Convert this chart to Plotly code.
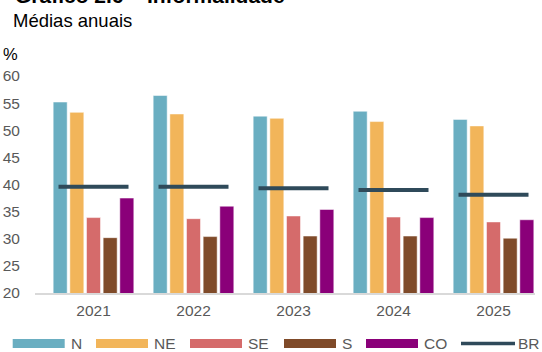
import plotly.graph_objects as go

# Annual averages of the informality rate (%) by region, and Brazil overall
years = ["2021", "2022", "2023", "2024", "2025"]
regions = ["N", "NE", "SE", "S", "CO"]
values_n = [55.2, 56.4, 52.6, 53.5, 52.0]
values_ne = [53.3, 53.0, 52.2, 51.6, 50.8]
values_se = [33.9, 33.7, 34.2, 34.0, 33.1]
values_s = [30.2, 30.4, 30.5, 30.5, 30.1]
values_co = [37.5, 36.0, 35.4, 33.9, 33.5]
values_br = [39.6, 39.6, 39.3, 39.0, 38.1]
y_ticks = [20, 25, 30, 35, 40, 45, 50, 55, 60]

series = [values_n, values_ne, values_se, values_s, values_co]
colors = ["#6aaec1", "#f2b55a", "#d56b6b", "#7f4a29", "#8a0079"]
br_color = "#2f4a5a"
tick_grey = "#595959"
font_family = "Liberation Sans, Arial, sans-serif"

W, H = 542, 352
M_L, M_R, M_T, M_B = 35, 7, 76, 59
PLOT_W = W - M_L - M_R
PLOT_H = H - M_T - M_B


def px_x(px):
    """Horizontal pixel position -> paper coordinate."""
    return (px - M_L) / PLOT_W


def px_y(py):
    """Vertical pixel position (from the top) -> paper coordinate."""
    return (H - M_B - py) / PLOT_H


fig = go.Figure()

for name, vals, col in zip(regions, series, colors):
    fig.add_trace(go.Bar(
        x=years, y=vals, name=name,
        marker=dict(color=col, line=dict(color="rgba(255,255,255,0.5)", width=1)),
    ))

# Brazil: short horizontal dash centred on each year group
fig.add_trace(go.Scatter(
    x=years, y=values_br, name="BR", mode="markers",
    marker=dict(symbol="line-ew", size=50, color=br_color,
                line=dict(color=br_color, width=4)),
))

# Legend row along the bottom: wide swatches followed by the series name
legend_names = regions + ["BR"]
legend_colors = colors + [br_color]
legend_x0 = [12.7, 96, 190, 284, 366, 461]
swatch_w = 52
shapes = []
annotations = []
for name, col, x0 in zip(legend_names, legend_colors, legend_x0):
    if name == "BR":
        shapes.append(dict(type="line", xref="paper", yref="paper",
                           x0=px_x(x0), x1=px_x(x0 + 54), y0=px_y(343.5), y1=px_y(343.5),
                           line=dict(color=col, width=3.5)))
        tx = x0 + 55.5
    else:
        shapes.append(dict(type="rect", xref="paper", yref="paper",
                           x0=px_x(x0), x1=px_x(x0 + swatch_w), y0=px_y(348), y1=px_y(339),
                           fillcolor=col, line=dict(width=0)))
        tx = x0 + swatch_w + 5
    annotations.append(dict(text=name, xref="paper", yref="paper",
                            x=px_x(tx), xanchor="left", y=px_y(343.5), yanchor="middle",
                            showarrow=False, xshift=-1,
                            font=dict(size=15.5, color=tick_grey, family=font_family)))

annotations += [
    dict(text="<b>Gráfico 2.6 – Informalidade</b>", xref="paper", yref="paper",
         x=px_x(13), xanchor="left", y=px_y(9), yanchor="bottom", showarrow=False,
         font=dict(size=21, color="black", family=font_family)),
    dict(text="Médias anuais", xref="paper", yref="paper",
         x=px_x(11), xanchor="left", y=px_y(20), yanchor="middle", showarrow=False,
         font=dict(size=18.5, color="black", family=font_family)),
    dict(text="%", xref="paper", yref="paper",
         x=px_x(1), xanchor="left", y=px_y(53.5), yanchor="middle", showarrow=False,
         font=dict(size=16.5, color="black", family=font_family)),
]

fig.update_layout(
    width=W, height=H,
    margin=dict(l=M_L, r=M_R, t=M_T, b=M_B),
    paper_bgcolor="white", plot_bgcolor="white",
    font=dict(family=font_family, size=15.5, color=tick_grey),
    barmode="group", bargap=0.167, bargroupgap=0.16,
    showlegend=False,
    xaxis=dict(
        type="category", range=[-0.585, 4.415], automargin=False,
        showline=True, linecolor="#d9d9d9", linewidth=2,
        showgrid=False, zeroline=False, ticks="",
        ticklabelstandoff=2,
    ),
    yaxis=dict(
        range=[20, 60], tickvals=y_ticks, automargin=False,
        showgrid=False, zeroline=False, showline=False, ticks="",
        ticklabelstandoff=14,
    ),
    shapes=shapes,
    annotations=annotations,
)

fig.write_html("out.html")
